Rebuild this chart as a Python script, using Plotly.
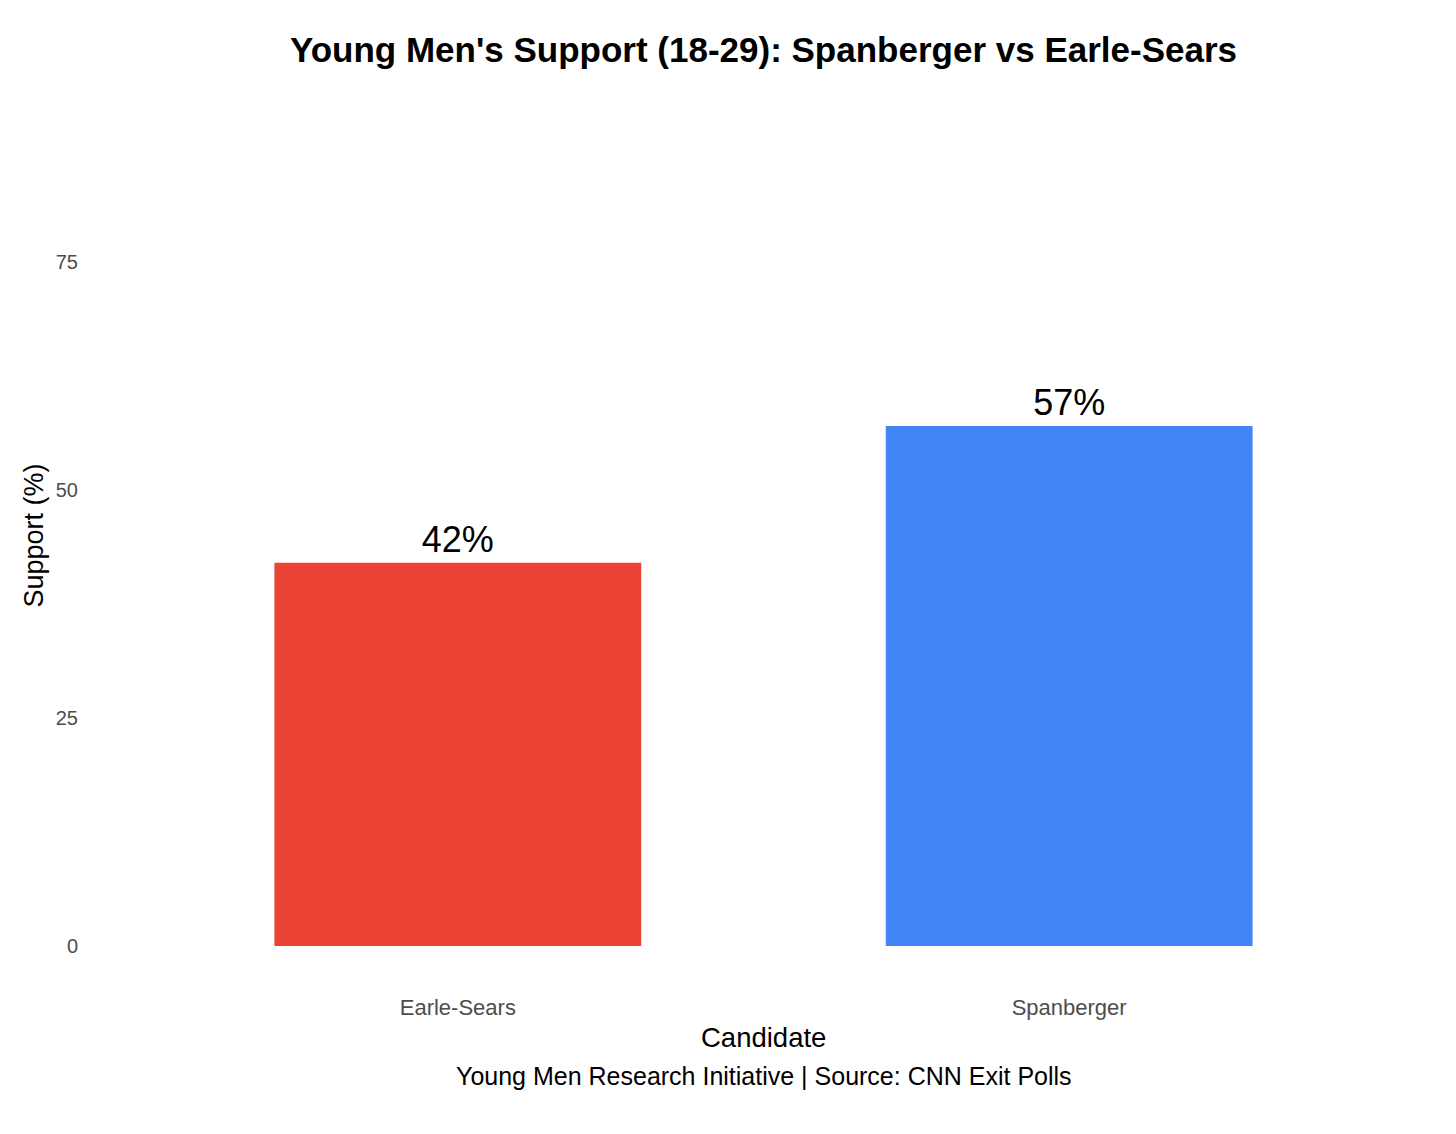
import plotly.graph_objects as go

candidates = ["Earle-Sears", "Spanberger"]
support = [42, 57]
bar_colors = ["#EA4335", "#4285F4"]
y_ticks = [0, 25, 50, 75]

FONT = "Liberation Sans, Arial, Helvetica, sans-serif"

# page body adds an 8px offset; compensate in size/margins
W, H = 1448, 1126
L, R, T, B = 83, 20, 76, 147
PW, PH = W - L - R, H - T - B

fig = go.Figure()
fig.add_trace(go.Bar(
    x=candidates,
    y=support,
    marker=dict(color=bar_colors, line=dict(width=0)),
    width=0.6,
    text=[f"{v}%" for v in support],
    textposition="outside",
    textfont=dict(size=36, color="black", family=FONT),
    cliponaxis=False,
    showlegend=False,
))

fig.update_layout(
    width=W,
    height=H,
    autosize=False,
    paper_bgcolor="white",
    plot_bgcolor="white",
    margin=dict(l=L, r=R, t=T, b=B),
    font=dict(family=FONT),
    title=dict(
        text="<b>Young Men's Support (18-29): Spanberger vs Earle-Sears</b>",
        x=0.5, xref="paper", xanchor="center",
        y=1 - 42 / H, yref="container", yanchor="middle",
        font=dict(size=35, color="black", family=FONT),
    ),
    xaxis=dict(
        range=[-0.6, 1.6],
        showgrid=False, zeroline=False, showline=False,
        tickfont=dict(size=22, color="#4D4D4D"),
        ticks="", ticklabelstandoff=5,
    ),
    yaxis=dict(
        range=[-4.5, 94.5],
        tickvals=y_ticks,
        showgrid=False, zeroline=False, showline=False,
        tickfont=dict(size=20, color="#4D4D4D"),
        ticks="", ticklabelstandoff=12,
    ),
    bargap=0.4,
)

fig.add_annotation(
    text="Candidate", xref="paper", yref="paper", x=0.5, y=-50 / PH,
    xanchor="center", yanchor="middle", showarrow=False,
    font=dict(size=27.5, color="black", family=FONT),
)
fig.add_annotation(
    text="Young Men Research Initiative | Source: CNN Exit Polls",
    xref="paper", yref="paper", x=0.5, y=-89 / PH,
    xanchor="center", yanchor="middle", showarrow=False,
    font=dict(size=25, color="black", family=FONT),
)
fig.add_annotation(
    text="Support (%)", xref="paper", yref="paper",
    x=-58 / PW, y=0.5, textangle=-90,
    xanchor="center", yanchor="middle", showarrow=False,
    font=dict(size=27, color="black", family=FONT),
)

fig.write_html("out.html")
